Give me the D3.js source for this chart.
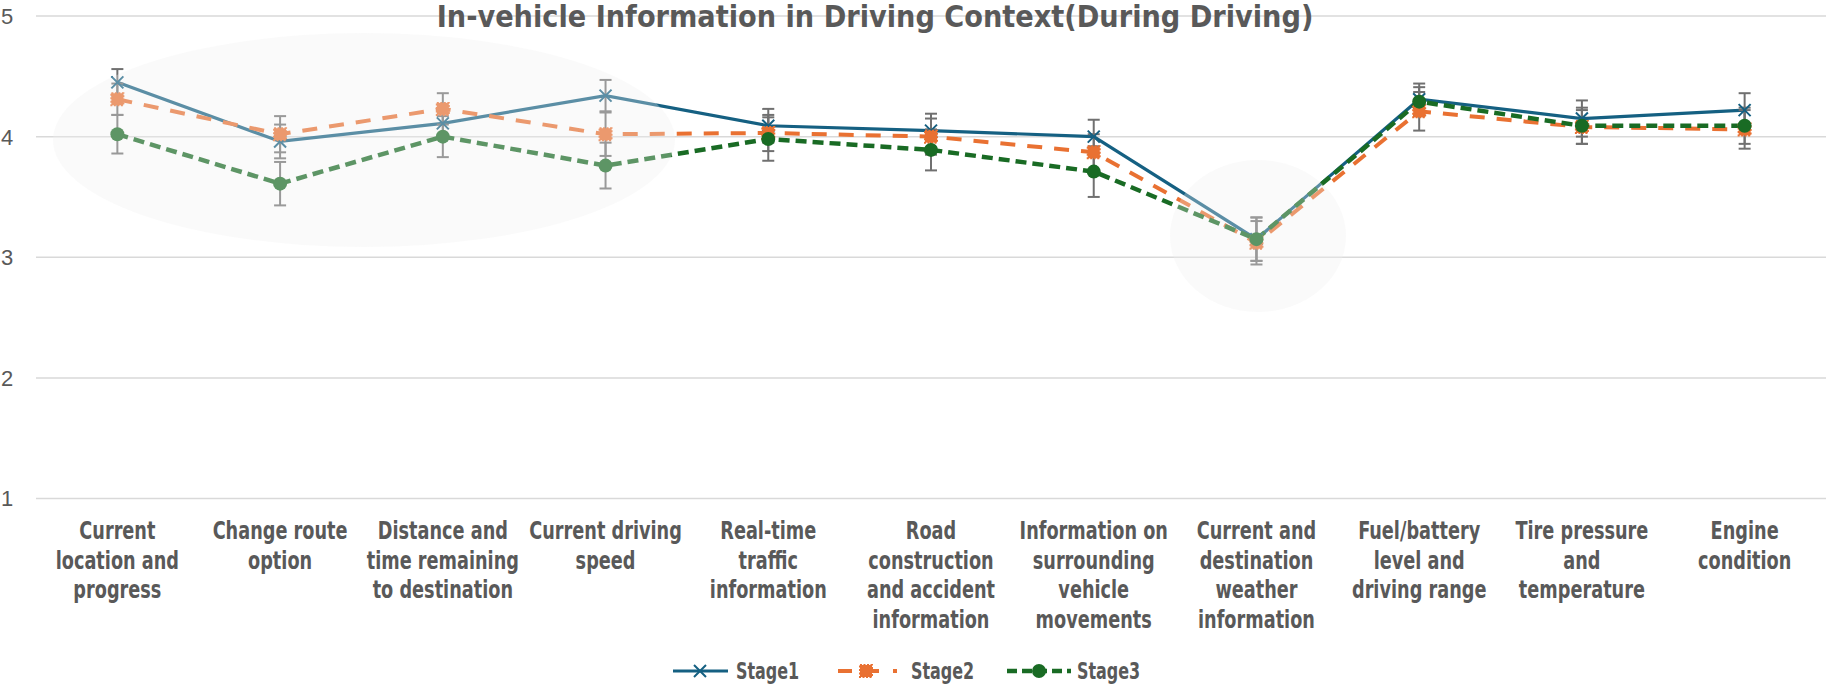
<!DOCTYPE html>
<html>
<head>
<meta charset="utf-8">
<script src="https://cdn.jsdelivr.net/npm/d3@7"></script>
<style>
  body { margin: 0; background: #fff; }
  svg { display: block; }
</style>
</head>
<body>
<script>
// chart data
const categories = [
  ["Current", "location and", "progress"],
  ["Change route", "option"],
  ["Distance and", "time remaining", "to destination"],
  ["Current driving", "speed"],
  ["Real-time", "traffic", "information"],
  ["Road", "construction", "and accident", "information"],
  ["Information on", "surrounding", "vehicle", "movements"],
  ["Current and", "destination", "weather", "information"],
  ["Fuel/battery", "level and", "driving range"],
  ["Tire pressure", "and", "temperature"],
  ["Engine", "condition"]
];
const seriesNames = ["Stage1", "Stage2", "Stage3"];
const stage1 = [4.45, 3.96, 4.11, 4.34, 4.09, 4.05, 4.00, 3.15, 4.31, 4.15, 4.22];
const stage2 = [4.31, 4.02, 4.23, 4.02, 4.03, 4.00, 3.87, 3.12, 4.21, 4.08, 4.06];
const stage3 = [4.02, 3.61, 4.00, 3.76, 3.98, 3.89, 3.71, 3.15, 4.29, 4.09, 4.09];
const err1 = [0.11, 0.14, 0.12, 0.13, 0.14, 0.14, 0.14, 0.18, 0.13, 0.15, 0.14];
const err2 = [0.13, 0.15, 0.13, 0.18, 0.15, 0.15, 0.15, 0.18, 0.16, 0.14, 0.16];
const err3 = [0.16, 0.18, 0.17, 0.19, 0.18, 0.17, 0.21, 0.18, 0.12, 0.15, 0.15];
const yTicks = [1, 2, 3, 4, 5];
const title = "In-vehicle Information in Driving Context(During Driving)";

const w = 1826;
const h = 687;
const font = "'DejaVu Sans Condensed', 'DejaVu Sans', sans-serif";
const textColor = "#595959";
const squeeze = 0.82; // narrow the condensed font a bit more

const series = [
  { name: seriesNames[0], values: stage1, err: err1, color: "#156082", width: 3.2, dash: null, marker: "x" },
  { name: seriesNames[1], values: stage2, err: err2, color: "#E97132", width: 4, dash: "15,12", marker: "square" },
  { name: seriesNames[2], values: stage3, err: err3, color: "#196B24", width: 4.5, dash: "11,6", marker: "circle" }
];

const xScale = d3.scalePoint()
                 .domain(d3.range(categories.length))
                 .range([36, w])
                 .padding(0.5);

const yScale = d3.scaleLinear()
                 .domain([1, 5])
                 .range([498.5, 16]);

const svg = d3.select("body")
              .append("svg")
              .attr("width", w)
              .attr("height", h);

// gridlines
svg.append("g")
   .selectAll("line")
   .data(yTicks)
   .enter()
   .append("line")
   .attr("x1", 36)
   .attr("x2", w)
   .attr("y1", d => yScale(d))
   .attr("y2", d => yScale(d))
   .attr("stroke", "#d9d9d9")
   .attr("stroke-width", 1.5);

// y tick labels
svg.append("g")
   .selectAll("text")
   .data(yTicks)
   .enter()
   .append("text")
   .attr("x", 1)
   .attr("y", d => yScale(d))
   .attr("dy", "0.36em")
   .attr("font-family", "'Liberation Sans', Arial, sans-serif")
   .attr("font-size", 22)
   .attr("fill", textColor)
   .text(d => d);

// x labels
const xl = svg.append("g")
              .selectAll("text")
              .data(categories)
              .enter()
              .append("text")
              .attr("transform", (d, i) => `translate(${xScale(i)},0) scale(${squeeze},1)`)
              .attr("text-anchor", "middle")
              .attr("font-family", font)
              .attr("font-size", 24)
              .attr("font-weight", "bold")
              .attr("fill", textColor);
xl.selectAll("tspan")
  .data(d => d)
  .enter()
  .append("tspan")
  .attr("x", 0)
  .attr("y", (d, i) => 531 + i * 29.5)
  .attr("dy", "0.35em")
  .text(d => d);

// title, fitted to the reference width
const titleText = svg.append("text")
   .attr("y", 27)
   .attr("text-anchor", "middle")
   .attr("font-family", font)
   .attr("font-size", 30)
   .attr("font-weight", "bold")
   .attr("fill", textColor)
   .text(title);
const tLen = titleText.node().getComputedTextLength();
titleText.attr("transform", `translate(875,0) scale(${877 / tLen},1)`);

const drawMarker = (g, s, x, y) => {
  if (s.marker === "x") {
    g.append("path")
     .attr("d", `M${x - 6},${y - 6}L${x + 6},${y + 6}M${x - 6},${y + 6}L${x + 6},${y - 6}`)
     .attr("stroke", s.color)
     .attr("stroke-width", 2)
     .attr("fill", "none");
  } else if (s.marker === "square") {
    g.append("rect")
     .attr("x", x - 6)
     .attr("y", y - 6)
     .attr("width", 12)
     .attr("height", 12)
     .attr("fill", s.color)
     .attr("stroke", s.color)
     .attr("stroke-width", 2)
     .attr("stroke-dasharray", "2,1.5");
  } else {
    g.append("circle")
     .attr("cx", x)
     .attr("cy", y)
     .attr("r", 7)
     .attr("fill", s.color);
  }
};

const line = d3.line()
               .x((d, i) => xScale(i))
               .y(d => yScale(d));

// lines
series.forEach(s => {
  svg.append("path")
     .datum(s.values)
     .attr("d", line)
     .attr("fill", "none")
     .attr("stroke", s.color)
     .attr("stroke-width", s.width)
     .attr("stroke-dasharray", s.dash);
});

// error bars
series.forEach(s => {
  const eg = svg.append("g")
                .attr("stroke", "#707070")
                .attr("stroke-width", 2);
  s.values.forEach((v, i) => {
    const x = xScale(i);
    const y0 = yScale(v - s.err[i]);
    const y1 = yScale(v + s.err[i]);
    eg.append("line").attr("x1", x).attr("x2", x).attr("y1", y0).attr("y2", y1);
    eg.append("line").attr("x1", x - 6).attr("x2", x + 6).attr("y1", y0).attr("y2", y0);
    eg.append("line").attr("x1", x - 6).attr("x2", x + 6).attr("y1", y1).attr("y2", y1);
  });
});

// markers
series.forEach(s => {
  const mg = svg.append("g");
  s.values.forEach((v, i) => drawMarker(mg, s, xScale(i), yScale(v)));
});

// highlight ellipses
svg.append("ellipse")
   .attr("cx", 364)
   .attr("cy", 140)
   .attr("rx", 311)
   .attr("ry", 107)
   .attr("fill", "#eeeeee")
   .attr("opacity", 0.32);

svg.append("ellipse")
   .attr("cx", 1258)
   .attr("cy", 236)
   .attr("rx", 88)
   .attr("ry", 76)
   .attr("fill", "#eeeeee")
   .attr("opacity", 0.32);

// legend
const legendY = 671;
const legendItems = [
  { s: series[0], x0: 673, x1: 728, mx: 700, tx: 736, dash: null },
  { s: series[1], x0: 838, x1: 903, mx: 866, tx: 911, dash: "14,20,7,14,4" },
  { s: series[2], x0: 1007, x1: 1071, mx: 1039, tx: 1077, dash: "10,5" }
];
const lg = svg.append("g");
legendItems.forEach(d => {
  lg.append("line")
    .attr("x1", d.x0)
    .attr("x2", d.x1)
    .attr("y1", legendY)
    .attr("y2", legendY)
    .attr("stroke", d.s.color)
    .attr("stroke-width", d.s.width)
    .attr("stroke-dasharray", d.dash);
  drawMarker(lg, d.s, d.mx, legendY);
  lg.append("text")
    .attr("transform", `translate(${d.tx},0) scale(0.77,1)`)
    .attr("y", legendY)
    .attr("dy", "0.35em")
    .attr("font-family", font)
    .attr("font-size", 23)
    .attr("font-weight", "bold")
    .attr("fill", textColor)
    .text(d.s.name);
});
</script>
</body>
</html>
